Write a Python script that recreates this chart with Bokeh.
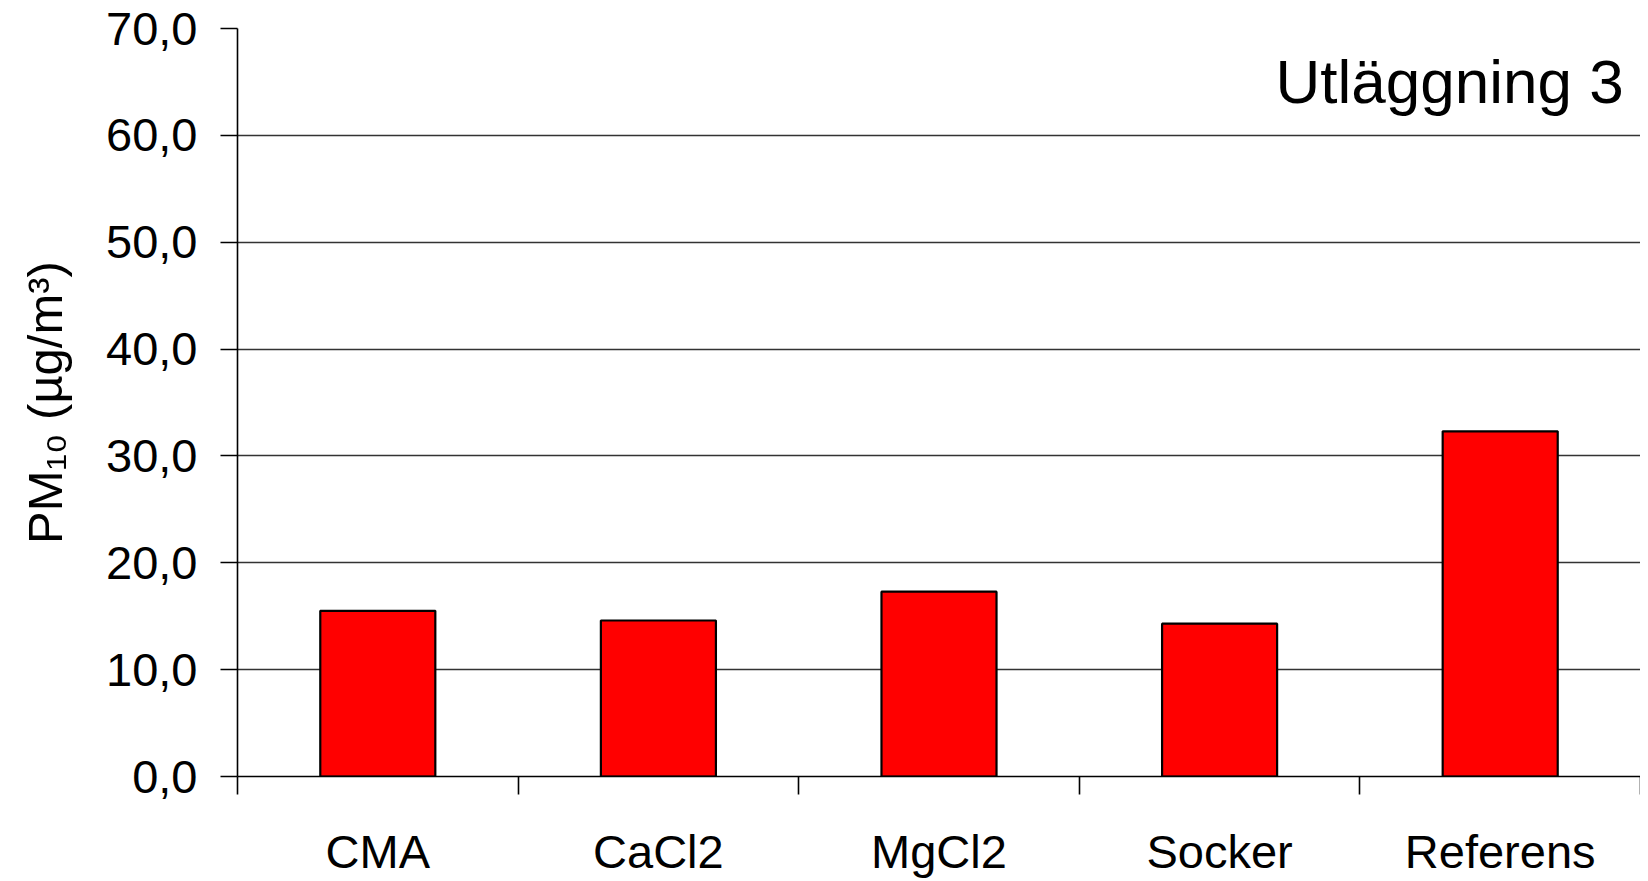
from bokeh.plotting import figure
from bokeh.models import Range1d, LinearAxis, FixedTicker, Label, ColumnDataSource
from bokeh.embed import file_html
from bokeh.resources import INLINE

categories = ["CMA", "CaCl2", "MgCl2", "Socker", "Referens"]
pm10 = [15.5, 14.6, 17.3, 14.3, 32.3]
y_ticks = [0, 10, 20, 30, 40, 50, 60, 70]
y_tick_labels = ["0,0", "10,0", "20,0", "30,0", "40,0", "50,0", "60,0", "70,0"]
title_text = "Utläggning 3"
y_label = "PM\u2081\u2080 (\u00b5g/m\u00b3)"

FONT = "Liberation Sans"
n = len(categories)
centers = [i + 0.5 for i in range(n)]
edges = list(range(n + 1))

p = figure(x_range=Range1d(0, n), y_range=Range1d(0, 70),
           frame_width=1403, frame_height=748,
           min_border_left=237, min_border_right=0, min_border_top=28, min_border_bottom=90,
           output_backend="svg", toolbar_location=None, x_axis_location=None)
p.outline_line_color = None
p.background_fill_color = "white"
p.border_fill_color = "white"

src = ColumnDataSource(dict(x=centers, top=pm10, cat=categories))
p.vbar(x="x", top="top", width=0.41, source=src, fill_color="#FF0000",
       line_color="black", line_width=2.2)

# y axis
yt = FixedTicker(ticks=y_ticks)
p.yaxis.ticker = yt
p.yaxis.major_label_overrides = {t: l for t, l in zip(y_ticks, y_tick_labels)}
p.yaxis.major_label_text_font = FONT
p.yaxis.major_label_text_font_size = "47px"
p.yaxis.major_label_text_color = "black"
p.yaxis.major_tick_out = 17
p.yaxis.major_tick_in = 0
p.yaxis.minor_tick_line_color = None
p.yaxis.major_label_standoff = 23
p.yaxis.axis_line_color = "black"
p.yaxis.axis_line_width = 1.6
p.yaxis.major_tick_line_color = "black"
p.yaxis.major_tick_line_width = 1.6
p.yaxis.axis_label = y_label
p.yaxis.axis_label_text_font = FONT
p.yaxis.axis_label_text_font_size = "49px"
p.yaxis.axis_label_text_font_style = "normal"
p.yaxis.axis_label_text_color = "black"
p.yaxis.axis_label_standoff = 31

p.xgrid.grid_line_color = None
p.ygrid.ticker = yt
p.ygrid.grid_line_color = "#333333"
p.ygrid.grid_line_width = 1.6

# category axis: labels at centres, tick marks (minor ticks) at category edges
cat_axis = LinearAxis(ticker=FixedTicker(ticks=centers, minor_ticks=edges),
                      major_label_overrides={c: lab for c, lab in zip(centers, categories)},
                      axis_line_color="black", axis_line_width=1.6,
                      major_tick_line_color=None, major_tick_out=0, major_tick_in=0,
                      minor_tick_line_color="black", minor_tick_line_width=1.6,
                      minor_tick_out=18, minor_tick_in=0,
                      major_label_text_font=FONT, major_label_text_font_size="47px",
                      major_label_text_color="black", major_label_standoff=30)
p.add_layout(cat_axis, "below")

p.add_layout(Label(x=4.94, y=65.0, text=title_text, text_align="right",
                   text_baseline="alphabetic", text_font=FONT,
                   text_font_size="62px", text_color="black"))

open("out.html", "w").write(file_html(p, INLINE))
